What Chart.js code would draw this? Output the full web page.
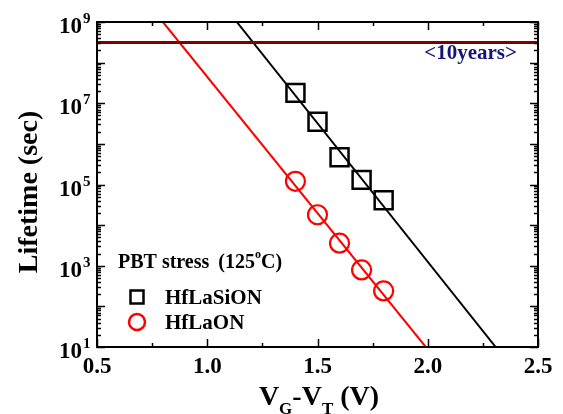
<!DOCTYPE html>
<html>
<head>
<meta charset="utf-8">
<script src="https://cdn.jsdelivr.net/npm/chart.js@4.4.0/dist/chart.umd.min.js"></script>
<style>
html,body{margin:0;padding:0;background:#fff;}
#wrap{width:563px;height:414px;position:relative;}
</style>
</head>
<body>
<div id="wrap"><canvas id="c" width="563" height="414"></canvas></div>
<script>
// ---- data ----
const voltages = [1.4, 1.5, 1.6, 1.7, 1.8];
const lifetimeHfLaSiON = [1.8e7, 3.5e6, 4.7e5, 1.3e5, 4.1e4];
const lifetimeHfLaON = [1.2e5, 1.8e4, 3.6e3, 7.9e2, 2.4e2];
const fitHfLaSiONV = [1.134, 2.308];
const fitHfLaONV = [0.799, 1.991];
const fitLifetime = [1e9, 10];
const tenYearsLine = [3.15e8, 3.15e8];
const tenYearsV = [0.5, 2.5];
const xTickValues = [0.5, 1.0, 1.5, 2.0, 2.5];
const xTickLabels = ['0.5', '1.0', '1.5', '2.0', '2.5'];
const yTickExponents = [1, 3, 5, 7, 9];
const seriesNames = ['HfLaSiON', 'HfLaON'];
const legendTitle = 'PBT stress';
const tenYearsLabel = '<10years>';

const pts = (xs, ys) => xs.map((x, i) => ({x: x, y: ys[i]}));
const SERIF = '"Liberation Serif", "Times New Roman", serif';

const framePlugin = {
  id: 'frame',
  afterDraw(chart) {
    const ctx = chart.ctx;
    const a = chart.chartArea;
    const xs = chart.scales.x, ys = chart.scales.y;
    ctx.save();
    ctx.strokeStyle = '#000';
    ctx.fillStyle = '#000';
    // ticks
    ctx.lineWidth = 1.5;
    ctx.beginPath();
    for (let v = 0.5; v <= 2.5001; v += 0.25) {
      const px = Math.round(xs.getPixelForValue(v)) + 0.5;
      const major = Math.abs(v * 2 - Math.round(v * 2)) < 1e-6;
      const L = major ? 8 : 4;
      ctx.moveTo(px, a.bottom); ctx.lineTo(px, a.bottom - L);
      ctx.moveTo(px, a.top); ctx.lineTo(px, a.top + L);
    }
    for (let e = 1; e <= 9; e++) {
      for (let m = 1; m <= 9; m++) {
        if (e === 9 && m > 1) break;
        const v = m * Math.pow(10, e);
        const py = Math.round(ys.getPixelForValue(v)) + 0.5;
        const L = m === 1 ? 8 : 4;
        ctx.moveTo(a.left, py); ctx.lineTo(a.left + L, py);
        ctx.moveTo(a.right, py); ctx.lineTo(a.right - L, py);
      }
    }
    ctx.stroke();
    // frame
    ctx.lineWidth = 2;
    ctx.strokeRect(a.left, a.top, a.right - a.left, a.bottom - a.top);

    // x tick labels
    ctx.font = 'bold 23px ' + SERIF;
    ctx.textAlign = 'center';
    ctx.textBaseline = 'alphabetic';
    xTickValues.forEach((v, i) => {
      ctx.fillText(xTickLabels[i], xs.getPixelForValue(v), a.bottom + 26);
    });
    // y tick labels 10^n
    yTickExponents.forEach(e => {
      const py = ys.getPixelForValue(Math.pow(10, e));
      ctx.font = 'bold 23px ' + SERIF;
      ctx.textAlign = 'right';
      ctx.fillText('10', 82, py + 11);
      ctx.font = 'bold 15px ' + SERIF;
      ctx.textAlign = 'left';
      ctx.fillText(String(e), 83, py + 1);
    });

    // y axis title
    ctx.save();
    ctx.translate(37, 192);
    ctx.rotate(-Math.PI / 2);
    ctx.font = 'bold 28px ' + SERIF;
    ctx.textAlign = 'center';
    ctx.fillText('Lifetime (sec)', 0, 0);
    ctx.restore();

    // x axis title V_G-V_T (V)
    const parts = [
      {t: 'V', s: 28, dy: 0}, {t: 'G', s: 17, dy: 9},
      {t: '-V', s: 28, dy: 0}, {t: 'T', s: 17, dy: 9},
      {t: ' (V)', s: 28, dy: 0}
    ];
    let total = 0;
    parts.forEach(p => { ctx.font = 'bold ' + p.s + 'px ' + SERIF; p.w = ctx.measureText(p.t).width; total += p.w; });
    let x0 = 319 - total / 2;
    ctx.textAlign = 'left';
    parts.forEach(p => {
      ctx.font = 'bold ' + p.s + 'px ' + SERIF;
      ctx.fillText(p.t, x0, 405 + p.dy);
      x0 += p.w;
    });

    // 10 years label
    ctx.font = 'bold 21px ' + SERIF;
    ctx.fillStyle = '#14147a';
    ctx.textAlign = 'right';
    ctx.fillText(tenYearsLabel, 517, 59);

    // legend
    ctx.fillStyle = '#000';
    ctx.textAlign = 'left';
    let lx = 118;
    const hdr = [
      {t: legendTitle, s: 20, dy: 0, gap: 9},
      {t: '(125', s: 20, dy: 0, gap: 0},
      {t: 'o', s: 12, dy: -10, gap: 0},
      {t: 'C)', s: 20, dy: 0, gap: 0}
    ];
    hdr.forEach(p => {
      ctx.font = 'bold ' + p.s + 'px ' + SERIF;
      ctx.fillText(p.t, lx, 268 + p.dy);
      lx += ctx.measureText(p.t).width + p.gap;
    });
    ctx.lineWidth = 2.5;
    ctx.strokeStyle = '#000';
    ctx.strokeRect(137 - 6.5, 297 - 6.5, 13, 13);
    ctx.strokeStyle = '#ff0000';
    ctx.beginPath();
    ctx.arc(137, 322, 8, 0, Math.PI * 2);
    ctx.stroke();
    ctx.font = 'bold 21px ' + SERIF;
    ctx.fillText(seriesNames[0], 165, 304);
    ctx.fillText(seriesNames[1], 165, 329);
    ctx.restore();
  }
};

new Chart(document.getElementById('c'), {
  type: 'scatter',
  data: {
    datasets: [
      {
        label: '10 years',
        data: pts(tenYearsV, tenYearsLine),
        showLine: true, pointRadius: 0, borderColor: '#800000', borderWidth: 3
      },
      {
        label: seriesNames[0] + ' fit',
        data: pts(fitHfLaSiONV, fitLifetime),
        showLine: true, pointRadius: 0, borderColor: '#000000', borderWidth: 2
      },
      {
        label: seriesNames[1] + ' fit',
        data: pts(fitHfLaONV, fitLifetime),
        showLine: true, pointRadius: 0, borderColor: '#ff0000', borderWidth: 2
      },
      {
        label: seriesNames[0],
        data: pts(voltages, lifetimeHfLaSiON),
        pointStyle: 'rect', pointRadius: 12.7, pointHoverRadius: 12.7,
        borderColor: '#000000', backgroundColor: 'rgba(0,0,0,0)', pointBorderWidth: 2.5
      },
      {
        label: seriesNames[1],
        data: pts(voltages, lifetimeHfLaON),
        pointStyle: 'circle', pointRadius: 9.5, pointHoverRadius: 9.5,
        borderColor: '#ff0000', backgroundColor: 'rgba(0,0,0,0)', pointBorderWidth: 2.2
      }
    ]
  },
  options: {
    responsive: false,
    animation: false,
    events: [],
    layout: {padding: {top: 22, right: 25, left: 0, bottom: 0}},
    plugins: {legend: {display: false}, tooltip: {enabled: false}},
    scales: {
      x: {
        type: 'linear', min: 0.5, max: 2.5,
        ticks: {display: false}, grid: {display: false}, border: {display: false},
        afterFit(s) { s.height = 67; }
      },
      y: {
        type: 'logarithmic', min: 10, max: 1e9,
        ticks: {display: false}, grid: {display: false}, border: {display: false},
        afterFit(s) { s.width = 97; }
      }
    }
  },
  plugins: [framePlugin]
});
</script>
</body>
</html>
